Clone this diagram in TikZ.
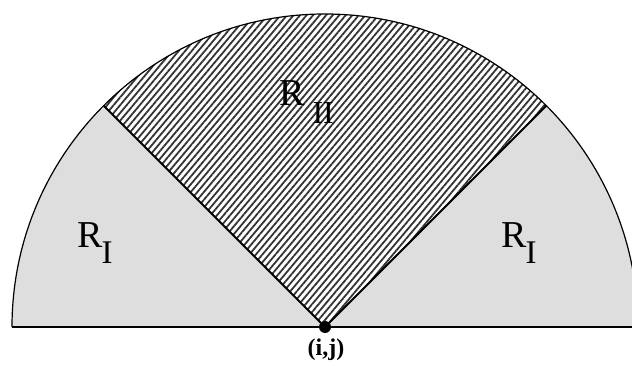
\documentclass[tikz,border=0pt]{standalone}
\usepackage{fontspec}
\setmainfont{Liberation Serif}
\usetikzlibrary{patterns.meta,calc}
\tikzset{
  regionfill/.style={fill=black!13},
  hatchfill/.style={pattern={Lines[angle=50,distance=5pt,line width=1.8pt]},pattern color=black!80},
  edgeline/.style={line width=1.8pt},
  rimline/.style={line width=1.2pt},
  biglabel/.style={inner sep=0pt,font=\fontsize{38}{40}\selectfont},
  ptlabel/.style={inner sep=0pt,font=\fontsize{24}{26}\selectfont\bfseries}
}
\newcommand{\subsc}[1]{\raisebox{-16pt}{\fontsize{33}{34}\selectfont #1}}
\begin{document}
\begin{tikzpicture}[x=1pt,y=1pt]
\clip (0,0) rectangle (632,365);
\fill[white] (0,0) rectangle (632,365);
\coordinate (C) at (325,38);
\coordinate (L) at ($(C)+(180:313)$);
\coordinate (Rt) at ($(C)+(0:313)$);
\coordinate (A) at ($(C)+(135:313)$);
\coordinate (B) at ($(C)+(45:313)$);
% side regions
\fill[regionfill] (C) -- (Rt) arc (0:180:313) -- cycle;
% middle hatched region
\fill[white] (C) -- (B) arc (45:135:313) -- cycle;
\fill[hatchfill] (C) -- (B) arc (45:135:313) -- cycle;
% outlines
\draw[rimline] (Rt) arc (0:180:313);
\draw[edgeline] (L) -- (Rt);
\node[circle,fill=black,inner sep=0pt,minimum size=12pt] (dot) at (C) {};
\draw[edgeline] (dot.center) -- (A);
\draw[edgeline] (dot.center) -- (B);
% labels
\node[ptlabel] (ij) at (326,15) {(i,j)};
\node[biglabel,anchor=base west] (r1) at (77,118) {R\hspace{-1pt}\subsc{I}};
\node[biglabel,anchor=base west] (r2) at (501,118) {R\hspace{-1pt}\subsc{I}};
\node[biglabel,anchor=base west] (r3) at (279,260) {R\hspace{8pt}\raisebox{-18pt}{\fontsize{32}{34}\selectfont II}};
\end{tikzpicture}
\end{document}
